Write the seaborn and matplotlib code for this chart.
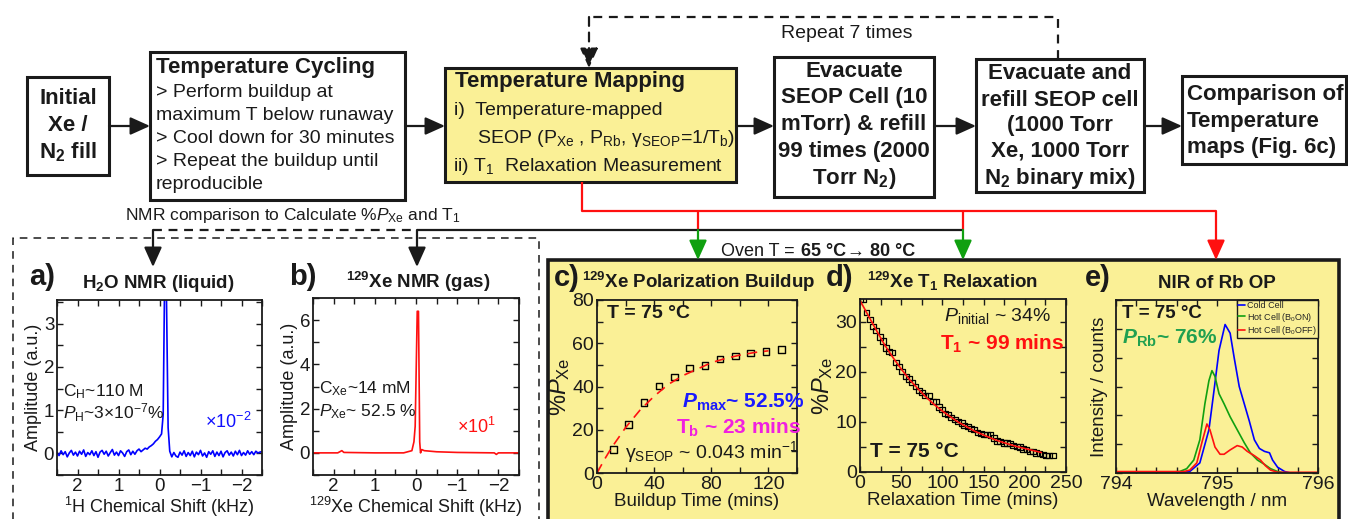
import numpy as np
import matplotlib
matplotlib.use('Agg')
import matplotlib.pyplot as plt
from matplotlib.patches import Rectangle
from matplotlib.ticker import MultipleLocator, NullFormatter
import seaborn as sns

sns.set_theme(style='ticks')
plt.rcParams['font.family'] = ['Liberation Sans', 'DejaVu Sans']
plt.rcParams['mathtext.fontset'] = 'custom'
plt.rcParams['mathtext.rm'] = 'Liberation Sans'
plt.rcParams['mathtext.it'] = 'Liberation Sans:italic'
plt.rcParams['mathtext.bf'] = 'Liberation Sans:bold'
plt.rcParams['mathtext.bfit'] = 'Liberation Sans:italic:bold'

# ---- data ----
# a) 1H NMR of water (kHz, a.u.)
h_shift_left = np.round(np.arange(2.5, 0.24, -0.05), 2)
h_amp_left = [0.02, -0.05, 0.06, -0.03, 0.04, -0.08, 0.01, 0.07, -0.04, 0.03, -0.06, 0.05,
              -0.02, 0.08, -0.07, 0.02, -0.03, 0.06, -0.05, 0.04, -0.09, 0.03, 0.07, -0.02,
              0.05, -0.06, 0.02, 0.09, -0.04, 0.03, -0.05, 0.06, 0.01, -0.07, 0.04, 0.08,
              -0.03, 0.05, -0.02, 0.06, 0.10, 0.04, 0.08, 0.12, 0.10, 0.15]
h_shift_peak = [0.2, 0.15, 0.1, 0.05, 0.0, -0.05, -0.09, -0.12, -0.17, -0.21, -0.25, -0.3]
h_amp_peak = [0.18, 0.22, 0.28, 0.32, 0.38, 0.45, 0.9, 3.6, 3.6, 0.6, 0.05, -0.08]
h_shift_right = np.round(np.arange(-0.35, -2.51, -0.05), 2)
h_amp_right = [0.02, -0.06, -0.09, 0.03, -0.04, 0.06, -0.07, 0.02, -0.05, 0.05, -0.08, 0.03,
               -0.03, 0.07, -0.06, 0.01, -0.09, 0.04, -0.02, 0.06, -0.07, 0.03, -0.05, 0.05,
               -0.08, 0.02, 0.06, -0.04, 0.03, -0.06, 0.05, -0.03, 0.07, -0.05, 0.02, -0.04,
               0.06, -0.02, 0.04, -0.03, 0.05, 0.01, 0.03, 0.04]

# b) 129Xe NMR of gas
xe_shift = [2.5, 1.9, 1.85, 1.8, 1.75, 1.0, 0.3, 0.1, 0.05, 0.02, -0.03, -0.06, -0.09,
            -0.11, -0.14, -0.2, -0.5, -1.0, -1.9, -1.95, -2.0, -2.5]
xe_amp = [0.0, 0.0, 0.05, 0.1, 0.02, 0.0, 0.0, 0.1, 0.5, 1.2, 6.4, 6.4, 0.5,
          0.0, 0.15, 0.1, 0.05, 0.02, 0.0, -0.07, 0.0, 0.0]

# c) buildup
bu_time = [11.7, 22.2, 32.8, 43.5, 54.3, 64.8, 75.6, 86.1, 96.8, 107.6, 118.4, 129.1]
bu_pxe = [10.8, 22.4, 32.5, 40.2, 44.4, 48.6, 49.8, 52.8, 54.0, 55.4, 56.2, 57.1]
bu_fit_t = [0, 5, 10, 20, 30, 40, 50, 60, 70, 80, 90, 100, 110, 120]
bu_fit_p = [0, 6, 11.5, 21, 29, 35.5, 41, 45, 48, 51, 53, 54.5, 55.7, 56.5]

# d) T1 relaxation
t1_time = [0, 3.2, 7.9, 11.9, 15.8, 19.8, 23.8, 27.7, 31.7, 35.6, 38.8, 43.6, 47.5, 51.5,
           56.2, 59.4, 63.4, 67.3, 71.3, 75.2, 79.2, 83.2, 89.1, 91.9, 95.8, 99.0, 103.0,
           106.9, 110.9, 114.9, 118.8, 123.6, 126.7, 130.7, 134.7, 138.6, 142.6, 146.5,
           150.5, 154.5, 158.4, 162.4, 166.3, 170.3, 174.3, 178.2, 182.2, 186.1, 190.1,
           194.1, 198.0, 202.0, 205.9, 209.9, 213.9, 217.8, 221.8, 225.7, 229.7, 233.7]
t1_pxe = [34.5, 34.6, 31.9, 30.5, 29.1, 28.3, 27.0, 26.2, 24.8, 24.1, 23.9, 21.9, 21.1, 20.1,
          19.1, 18.6, 17.9, 17.1, 16.3, 15.9, 15.3, 15.3, 14.1, 14.1, 13.0, 12.5, 11.7,
          11.5, 10.9, 10.5, 10.1, 9.8, 9.3, 9.1, 8.7, 8.5, 7.9, 7.7,
          7.5, 7.5, 7.4, 6.8, 6.2, 6.1, 5.8, 5.8, 5.7, 5.3, 5.1,
          5.0, 4.6, 4.5, 4.1, 4.1, 3.8, 3.7, 3.5, 3.3, 3.3, 3.3]
t1_fit_t = [0, 10, 20, 30, 40, 50, 60, 70, 80, 90, 100, 110, 120, 130, 140, 150, 160, 170,
            180, 190, 200, 210, 220]
t1_fit_p = [34.3, 31.3, 28.3, 25.4, 22.9, 20.6, 18.5, 16.7, 15.0, 13.5, 12.2, 11.0, 9.9,
            9.0, 8.1, 7.4, 6.7, 6.1, 5.6, 5.1, 4.7, 4.3, 3.9]

# e) NIR spectra
cold_wl = [794.0, 794.6, 794.73, 794.83, 794.92, 794.97, 795.02, 795.08, 795.13, 795.17,
           795.22, 795.27, 795.32, 795.37, 795.42, 795.47, 795.52, 795.55, 795.6, 795.67,
           795.73, 796.0]
cold_int = [0.0, 0.0, 0.01, 0.07, 0.3, 0.57, 0.85, 1.03, 0.97, 0.80,
            0.6, 0.48, 0.36, 0.23, 0.17, 0.15, 0.14, 0.09, 0.04, 0.01, 0.0, 0.0]
on_wl = [794.0, 794.5, 794.63, 794.7, 794.77, 794.83, 794.88, 794.92, 794.95, 794.98,
         795.02, 795.07, 795.13, 795.2, 795.27, 795.33, 795.4, 795.47, 795.53, 795.6,
         795.67, 796.0]
on_int = [0.005, 0.005, 0.01, 0.03, 0.09, 0.23, 0.48, 0.64, 0.71, 0.67,
          0.55, 0.48, 0.39, 0.30, 0.21, 0.14, 0.09, 0.06, 0.03, 0.01, 0.0, 0.0]
off_wl = [794.0, 794.55, 794.67, 794.73, 794.8, 794.85, 794.9, 794.93, 794.98, 795.03,
          795.07, 795.13, 795.2, 795.25, 795.3, 795.37, 795.43, 795.48, 795.53, 795.6,
          796.0]
off_int = [0.01, 0.01, 0.01, 0.02, 0.07, 0.21, 0.34, 0.30, 0.18, 0.13,
           0.13, 0.16, 0.19, 0.18, 0.15, 0.12, 0.09, 0.05, 0.02, 0.005, 0.005]
nir_labels = ['Cold Cell', r'Hot Cell (B$_0$ON)', r'Hot Cell (B$_0$OFF)']

YEL = '#FAF096'
INK = '#1a1a1a'
W, H = 1348, 519


def rect(x0, y0, x1, y1):
    return [x0 / W, 1 - y1 / H, (x1 - x0) / W, (y1 - y0) / H]


def style(ax, xmaj, xmin, ymaj, ymin, face, size):
    ax.set_facecolor(face)
    ax.xaxis.set_major_locator(MultipleLocator(xmaj))
    ax.xaxis.set_minor_locator(MultipleLocator(xmin))
    ax.yaxis.set_major_locator(MultipleLocator(ymaj))
    ax.yaxis.set_minor_locator(MultipleLocator(ymin))
    ax.tick_params(which='both', direction='in', top=True, right=True, length=4,
                   width=1, labelsize=size, colors=INK, pad=2)
    for s in ax.spines.values():
        s.set_linewidth(1.3)
        s.set_color(INK)


fig = plt.figure(figsize=(13.48, 5.19), dpi=100)
fig.patch.set_facecolor('white')

# ---- flowchart overlay in pixel units ----
ov = fig.add_axes([0, 0, 1, 1], zorder=0)
ov.set_xlim(0, W)
ov.set_ylim(H, 0)
ov.axis('off')


def box(x0, y0, x1, y1, fc='white', lw=2.2):
    ov.add_patch(Rectangle((x0, y0), x1 - x0, y1 - y0, fc=fc, ec=INK, lw=lw))


def arrow(x0, y0, x1, y1, color=INK, ls='-'):
    ov.annotate('', xy=(x1, y1), xytext=(x0, y0),
                arrowprops=dict(arrowstyle='-|>,head_length=1.0,head_width=0.45',
                                color=color, lw=1.6, ls=ls, shrinkA=0, shrinkB=0))


def line(xs, ys, color=INK, ls='-', lw=1.6):
    ov.plot(xs, ys, color=color, ls=ls, lw=lw, solid_capstyle='butt')


box(27, 77, 109, 175)
box(150, 52, 405, 200)
box(445, 68, 736, 182, fc=YEL)
box(774, 57, 934, 197)
box(976, 59, 1144, 192)
box(1182, 76, 1346, 164)

for x0, x1 in [(109, 150), (405, 445), (736, 774), (934, 976), (1144, 1182)]:
    arrow(x0, 126, x1, 126)

B = dict(fontsize=16, fontweight='bold', color=INK, va='baseline')
N = dict(fontsize=14, color=INK, va='baseline')
for txt, yb in [('Initial', 104), ('Xe /', 131), (r'N$_\mathbf{2}$ fill', 158)]:
    ov.text(68, yb, txt, ha='center', **B)

ov.text(156, 73, 'Temperature Cycling', ha='left', **B)
for txt, yb in [('> Perform buildup at', 97), ('maximum T below runaway', 120),
                ('> Cool down for 30 minutes', 143), ('> Repeat the buildup until', 166),
                ('reproducible', 189)]:
    ov.text(156, yb, txt, ha='left', **N)

ov.text(455, 87, 'Temperature Mapping', ha='left', **B)
ov.text(454, 115, 'i)  Temperature-mapped', ha='left', **N)
ov.text(477, 143, r'SEOP (P$_{\rm Xe}$ , P$_{\rm Rb}$, γ$_{\rm SEOP}$=1/T$_{\rm b}$)',
        ha='left', **N)
ov.text(453, 171, r'ii) T$_1$  Relaxation Measurement', ha='left', **N)

for txt, yb in [('Evacuate', 77), ('SEOP Cell (10', 103), ('mTorr) & refill', 130),
                ('99 times (2000', 157), (r'Torr N$_\mathbf{2}$)', 184)]:
    ov.text(854, yb, txt, ha='center', **B)
for txt, yb in [('Evacuate and', 79), ('refill SEOP cell', 106), ('(1000 Torr', 131),
                ('Xe, 1000 Torr', 157), (r'N$_\mathbf{2}$ binary mix)', 184)]:
    ov.text(1060, yb, txt, ha='center', **B)
for txt, yb in [('Comparison of', 100), ('Temperature', 127), ('maps (Fig. 6c)', 153)]:
    ov.text(1187, yb, txt, ha='left', **B)

# repeat loop
line([1058, 1058, 589], [59, 17, 17], ls=(0, (4, 3)))
arrow(589, 17, 589, 68, ls=(0, (4, 3)))
ov.text(847, 38, 'Repeat 7 times', ha='center', **N)

# red / green connectors
line([582, 582, 1216], [182, 211, 211], color='#ff1010')
arrow(1216, 211, 1216, 260, color='#ff1010')
for xv in [698, 963]:
    line([xv, xv], [211, 230], color='#ff1010')
    arrow(xv, 230, xv, 260, color='#10a010')
line([417, 963], [230, 230])

# NMR comparison bracket
ov.text(293, 220, r'NMR comparison to Calculate %$\mathit{P}_{\rm Xe}$ and T$_1$',
        ha='center', fontsize=12.5, color=INK, va='baseline')
line([153, 417], [230, 230], ls=(0, (4, 3)))
arrow(153, 230, 153, 267)
arrow(417, 230, 417, 267)
line([13, 13, 539, 539], [525, 238, 238, 525], ls=(0, (5, 4)), lw=1.1)

ov.text(795, 256, 'Oven T =', ha='right', fontsize=13, color=INK, va='baseline')
ov.text(801, 256, '65 °C', ha='left', fontsize=13, fontweight='bold', color=INK, va='baseline')
ov.text(846, 256, '→', ha='left', fontsize=13, color=INK, va='baseline')
ov.text(870, 256, '80 °C', ha='left', fontsize=13, fontweight='bold', color=INK, va='baseline')

# yellow panel frame
ov.add_patch(Rectangle((548, 260), 1339 - 548, 270, fc=YEL, ec=INK, lw=2.6))

# panel titles
P = dict(fontsize=21, fontweight='bold', color=INK, va='baseline', ha='center')
T = dict(fontsize=13.5, fontweight='bold', color=INK, va='baseline')
ov.text(42, 285, 'a)', **P)
ov.text(158, 288, r'H$_\mathbf{2}$O NMR (liquid)', ha='center', **T)
ov.text(303, 285, 'b)', **P)
ov.text(418, 288, r'$\mathbf{^{129}}$Xe NMR (gas)', ha='center', **T)
ov.text(567, 286, 'c)', **P)
ov.text(582, 288, r'$\mathbf{^{129}}$Xe Polarization Buildup', ha='left', **T)
ov.text(840, 286, 'd)', **P)
ov.text(867, 288, r'$\mathbf{^{129}}$Xe T$_\mathbf{1}$ Relaxation', ha='left', **T)
ov.text(1098, 286, 'e)', **P)
ov.text(1217, 288, 'NIR of Rb OP', ha='center', **T)

# ---- a) ----
ax = fig.add_axes(rect(57, 300, 262, 475), zorder=2)
sns.lineplot(x=list(h_shift_left) + h_shift_peak + list(h_shift_right),
             y=h_amp_left + h_amp_peak + h_amp_right,
             ax=ax, color='#0000ff', lw=1.2, estimator=None, sort=False)
ax.set_xlim(2.5, -2.5)
ax.set_ylim(-0.5, 3.55)
style(ax, 1, 0.5, 1, 0.5, 'white', 13.5)
ax.set_xlabel(r'$^{1}$H Chemical Shift (kHz)', fontsize=13, color=INK, labelpad=0)
ax.set_ylabel('Amplitude (a.u.)', fontsize=13, color=INK, labelpad=1)
ax.text(0.03, 0.45, r'C$_{\rm H}$~110 M', transform=ax.transAxes, fontsize=12.5, color=INK)
ax.text(0.03, 0.32, r'$\mathit{P}_{\rm H}$~3×10$^{-7}$%', transform=ax.transAxes,
        fontsize=12.5, color=INK)
ax.text(0.72, 0.27, r'×10$^{-2}$', transform=ax.transAxes, fontsize=13, color='#1010ff')

# ---- b) ----
ax = fig.add_axes(rect(313, 298, 519, 475), zorder=2)
sns.lineplot(x=xe_shift, y=xe_amp, ax=ax, color='#ff1010', lw=1.2, estimator=None, sort=False)
ax.set_xlim(2.5, -2.5)
ax.set_ylim(-1, 7)
style(ax, 1, 0.5, 2, 1, 'white', 13.5)
ax.set_xlabel(r'$^{129}$Xe Chemical Shift (kHz)', fontsize=13, color=INK, labelpad=0)
ax.set_ylabel('Amplitude (a.u.)', fontsize=13, color=INK, labelpad=1)
ax.text(0.03, 0.46, r'C$_{\rm Xe}$~14 mM', transform=ax.transAxes, fontsize=12.5, color=INK)
ax.text(0.03, 0.33, r'$\mathit{P}_{\rm Xe}$~ 52.5 %', transform=ax.transAxes,
        fontsize=12.5, color=INK)
ax.text(0.70, 0.24, r'×10$^{1}$', transform=ax.transAxes, fontsize=13, color='#ff1010')

# ---- c) ----
ax = fig.add_axes(rect(597, 300, 797, 473), zorder=2)
sns.lineplot(x=bu_fit_t, y=bu_fit_p, ax=ax, color='#ff1010', lw=1.2, estimator=None)
ax.lines[-1].set_dashes((6, 4))
sns.scatterplot(x=bu_time, y=bu_pxe, ax=ax, marker='s', s=22, facecolor='none',
                edgecolor='black', linewidth=1.0)
ax.set_xlim(0, 140)
ax.set_ylim(0, 80)
style(ax, 40, 20, 20, 10, YEL, 14)
ax.set_xlabel('Buildup Time (mins)', fontsize=13.5, color=INK, labelpad=0)
ax.set_ylabel(r'%$\mathit{P}_{\rm Xe}$', fontsize=17, color=INK, labelpad=0)
ax.text(0.05, 0.92, 'T = 75 °C', transform=ax.transAxes, fontsize=14, fontweight='bold',
        color=INK, va='center')
ax.text(0.73, 0.41, r'$\mathbfit{P}_{\mathbf{max}}$~ 52.5%', transform=ax.transAxes,
        fontsize=15, fontweight='bold', color='#1a1aff', ha='center', va='center')
ax.text(0.71, 0.26, r'T$_\mathbf{b}$ ~ 23 mins', transform=ax.transAxes, fontsize=15,
        fontweight='bold', color='#f020e0', ha='center', va='center')
ax.text(0.14, 0.12, r'γ$_{\rm SEOP}$ ~ 0.043 min$^{-1}$', transform=ax.transAxes,
        fontsize=14, color=INK, va='center')

# ---- d) ----
ax = fig.add_axes(rect(860, 299, 1066, 472), zorder=2)
sns.lineplot(x=t1_fit_t, y=t1_fit_p, ax=ax, color='#ff1010', lw=1.2, estimator=None)
sns.scatterplot(x=t1_time, y=t1_pxe, ax=ax, marker='s', s=18, facecolor='none',
                edgecolor='black', linewidth=0.9)
ax.set_xlim(0, 250)
ax.set_ylim(0, 34.6)
style(ax, 50, 25, 10, 5, YEL, 14)
ax.set_xlabel('Relaxation Time (mins)', fontsize=13.5, color=INK, labelpad=0)
ax.set_ylabel(r'%$\mathit{P}_{\rm Xe}$', fontsize=17, color=INK, labelpad=0)
ax.text(0.67, 0.9, r'$\mathit{P}_{\rm initial}$ ~ 34%', transform=ax.transAxes,
        fontsize=14, color=INK, ha='center', va='center')
ax.text(0.69, 0.74, r'T$_\mathbf{1}$ ~ 99 mins', transform=ax.transAxes, fontsize=15,
        fontweight='bold', color='#ff1010', ha='center', va='center')
ax.text(0.05, 0.12, 'T = 75 °C', transform=ax.transAxes, fontsize=15, fontweight='bold',
        color=INK, va='center')

# ---- e) ----
ax = fig.add_axes(rect(1116, 300, 1318, 473), zorder=2)
for wl, inten, col, lab in [(cold_wl, cold_int, '#0000ff', nir_labels[0]),
                            (on_wl, on_int, '#10a010', nir_labels[1]),
                            (off_wl, off_int, '#ff1010', nir_labels[2])]:
    sns.lineplot(x=wl, y=inten, ax=ax, color=col, lw=1.2, estimator=None, label=lab)
ax.set_xlim(794, 796)
ax.set_ylim(0, 1.2)
style(ax, 1, 0.2, 0.2, 0.2, YEL, 14)
ax.yaxis.set_major_formatter(NullFormatter())
ax.set_xlabel('Wavelength / nm', fontsize=13.5, color=INK, labelpad=0)
ax.set_ylabel('Intensity / counts', fontsize=13.5, color=INK, labelpad=4)
leg = ax.legend(loc='upper right', fontsize=6.5, frameon=True, fancybox=False,
                handlelength=0.7, borderpad=0.1, labelspacing=0.02, handletextpad=0.25,
                borderaxespad=0.05)
leg.get_frame().set_edgecolor(INK)
leg.get_frame().set_facecolor(YEL)
leg.get_frame().set_alpha(1)
ax.text(0.03, 0.92, 'T = 75 °C', transform=ax.transAxes, fontsize=13.5, fontweight='bold',
        color=INK, va='center')
ax.text(0.03, 0.78, r'$\mathbfit{P}_{\mathbf{Rb}}$~ 76%', transform=ax.transAxes,
        fontsize=15, fontweight='bold', color='#20a050', va='center')

fig.savefig('out.png', dpi=100)
